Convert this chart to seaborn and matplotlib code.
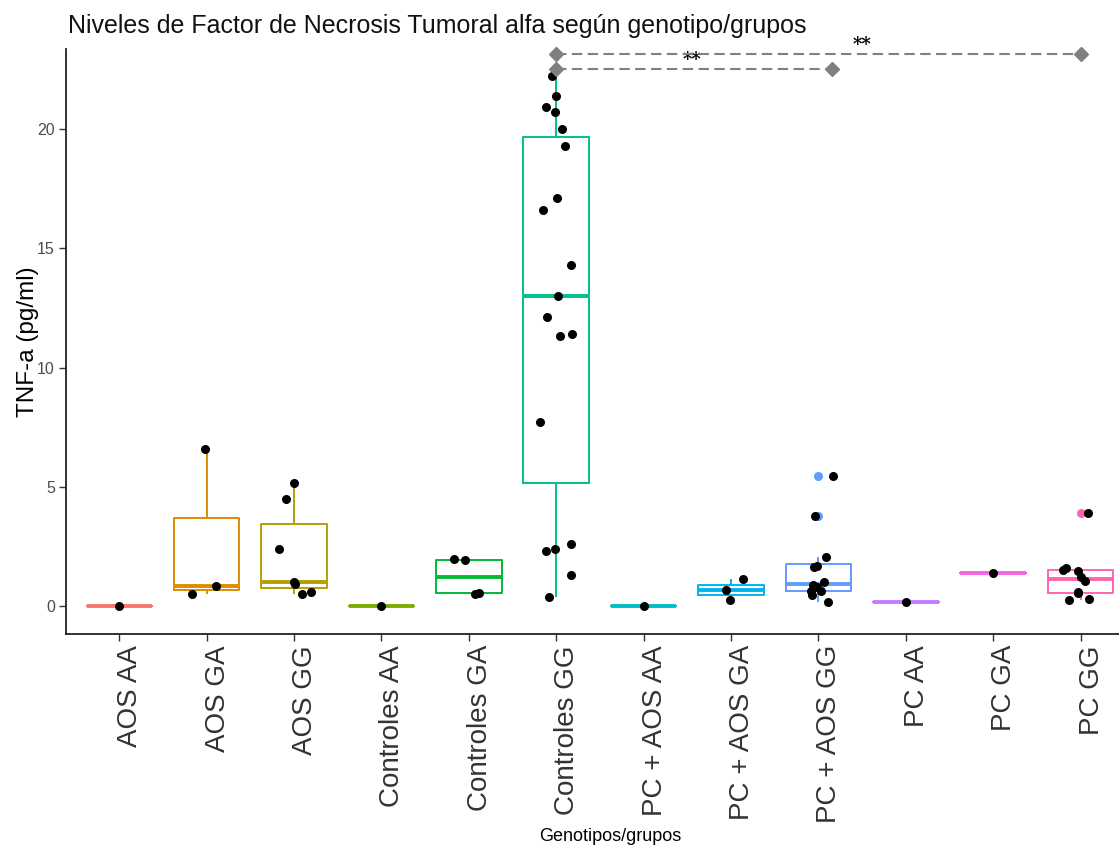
import numpy as np
import pandas as pd
import matplotlib
matplotlib.use("Agg")
import matplotlib.pyplot as plt
import matplotlib.transforms as mtransforms
import seaborn as sns

# ---------------- data ----------------
categories = ["AOS AA", "AOS GA", "AOS GG", "Controles AA", "Controles GA",
              "Controles GG", "PC + AOS AA", "PC + AOS GA", "PC + AOS GG",
              "PC AA", "PC GA", "PC GG"]

aos_aa = [0.0]
aos_ga = [0.50, 0.85, 6.57]
aos_gg = [0.50, 0.60, 0.91, 1.02, 2.39, 4.47, 5.14]
controles_aa = [0.0]
controles_ga = [0.52, 0.55, 1.93, 1.96]
controles_gg = [0.4, 1.3, 2.3, 2.4, 2.6, 7.7, 11.3, 11.4, 12.1, 13.0,
                14.3, 16.6, 17.1, 19.3, 20.0, 20.7, 20.9, 21.4, 22.2]
pcaos_aa = [0.0]
pcaos_ga = [0.25, 0.67, 1.12]
pcaos_gg = [0.18, 0.46, 0.63, 0.64, 0.78, 0.88, 0.99, 1.65, 1.69, 2.04, 3.77, 5.45]
pc_aa = [0.18]
pc_ga = [1.37]
pc_gg = [0.25, 0.29, 0.53, 0.60, 1.05, 1.23, 1.48, 1.51, 1.58, 3.91]

group_values = [aos_aa, aos_ga, aos_gg, controles_aa, controles_ga, controles_gg,
                pcaos_aa, pcaos_ga, pcaos_gg, pc_aa, pc_ga, pc_gg]

palette = ["#F8766D", "#DE8C00", "#B79F00", "#7CAE00", "#00BA38", "#00C08B",
           "#00BFC4", "#00B4F0", "#619CFF", "#C77CFF", "#F564E3", "#FF64B0"]

# significance brackets: (start, end, height, label, label_x)
sig_start = [5, 5]
sig_end = [8.16, 11.0]
sig_y = [22.5, 23.15]
sig_label = ["**", "**"]
sig_label_x = [6.55, 8.5]

title = "Niveles de Factor de Necrosis Tumoral alfa según genotipo/grupos"
xlabel = "Genotipos/grupos"
ylabel = "TNF-a (pg/ml)"
yticks = [0, 5, 10, 15, 20]

df = pd.DataFrame({
    "grupo": [c for c, vals in zip(categories, group_values) for _ in vals],
    "valor": [v for vals in group_values for v in vals],
})

# ---------------- plot ----------------
sns.set_theme(style="white")
plt.rcParams["font.family"] = ["Liberation Sans", "DejaVu Sans"]

W, H = 1119, 846
fig = plt.figure(figsize=(W / 100, H / 100), dpi=100)
ax = fig.add_axes([66 / W, 1 - 634 / H, (1133 - 66) / W, (634 - 49) / H])

sns.boxplot(data=df, x="grupo", y="valor", hue="grupo", order=categories,
            hue_order=categories, palette=palette, fill=False, width=0.75,
            linewidth=1.4, showcaps=False, legend=False, ax=ax,
            medianprops=dict(linewidth=2.8),
            flierprops=dict(marker="o", markersize=6.5, markeredgewidth=0))

# colour fliers with their group's colour
for line in ax.lines:
    if line.get_marker() == "o" and len(line.get_xdata()) > 0:
        idx = int(round(float(np.mean(line.get_xdata()))))
        line.set_markerfacecolor(palette[idx])
        line.set_markeredgecolor(palette[idx])

np.random.seed(7)
sns.stripplot(data=df, x="grupo", y="valor", order=categories, color="black",
              size=6.5, jitter=0.2, linewidth=0, ax=ax, zorder=5)

for s, e, y, lab, lx in zip(sig_start, sig_end, sig_y, sig_label, sig_label_x):
    ax.plot([s, e], [y, y], ls=(0, (5, 2.6)), color="#808080", lw=1.5,
            marker="D", markersize=7, markevery=[0, 1], clip_on=False, zorder=6)
    ax.text(lx, y + 0.38, lab, ha="center", va="center", fontsize=13,
            color="black", fontweight="bold", family="DejaVu Serif",
            clip_on=False)

ax.set_xlim(-0.61, 11.6)
ax.set_ylim(-1.17, 23.35)
ax.set_yticks(yticks)
ax.set_yticklabels([str(t) for t in yticks], fontsize=11.5, color="#4D4D4D")

ax.set_xticks(range(len(categories)))
ax.set_xticklabels(categories, rotation=90, fontsize=20, color="#333333",
                   ha="center", va="top")

ax.set_xlabel(xlabel, fontsize=13, color="black")
ax.xaxis.set_label_coords((610 - 66) / (1133 - 66), -0.332)
ax.set_ylabel(ylabel, fontsize=17.5, color="black", labelpad=-1)

for side in ["top", "right"]:
    ax.spines[side].set_visible(False)
for side in ["left", "bottom"]:
    ax.spines[side].set_color("#222222")
    ax.spines[side].set_linewidth(1.3)
ax.tick_params(axis="both", which="both", direction="out", length=5,
               width=1.0, color="#333333", left=True, bottom=True, pad=3)
ax.grid(False)

# shift x tick labels slightly right of their ticks (as in the reference)
offset = mtransforms.ScaledTranslation(11 / 100, 0, fig.dpi_scale_trans)
for lab in ax.xaxis.get_majorticklabels():
    lab.set_transform(lab.get_transform() + offset)

fig.text(68 / W, 1 - 33 / H, title, fontsize=18, color="#111111",
         ha="left", va="baseline")

fig.savefig("out.png", dpi=100)
